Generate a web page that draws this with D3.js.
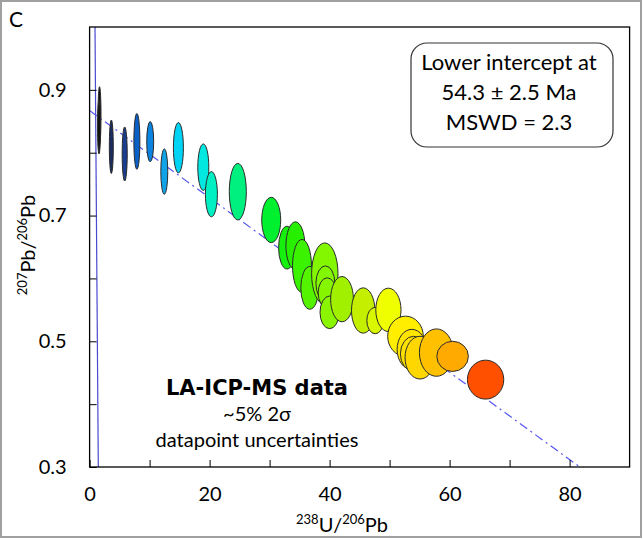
<!DOCTYPE html>
<html>
<head>
<meta charset="utf-8">
<script src="https://cdn.jsdelivr.net/npm/d3@7"></script>
<style>
  body { margin: 0; background: #fff; }
  text { font-family: Lato, "Open Sans", sans-serif; fill: #000; }
</style>
</head>
<body>
<div id="chart"></div>
<script>
// data: 238U/206Pb, 207Pb/206Pb and 1-sided error (same units)
var xVals = [1.65, 1.57, 3.62, 5.85, 7.88, 10.1, 12.45, 14.8, 18.95, 20.3, 24.7,
             30.27, 32.9, 34.3, 35.4, 36.7, 39.2, 39.3, 39.6, 40.0, 42.07, 45.6,
             47.6, 49.8, 52.65, 53.7, 54.0, 55.07, 57.8, 60.5, 66.0];
var yVals = [0.859, 0.840, 0.8095, 0.798, 0.818, 0.8175, 0.770, 0.808, 0.777, 0.734, 0.738,
             0.693, 0.649, 0.652, 0.620, 0.585, 0.6075, 0.592, 0.577, 0.546, 0.567, 0.549,
             0.533, 0.550, 0.508, 0.487, 0.480, 0.474, 0.482, 0.476, 0.439];
var xErr  = [0.25, 0.25, 0.33, 0.42, 0.5, 0.58, 0.58, 0.83, 0.92, 1.0, 1.42,
             1.58, 1.4, 1.58, 1.58, 1.5, 2.2, 1.58, 1.5, 1.6, 1.9, 1.95,
             1.4, 2.1, 2.97, 2.45, 2.2, 2.5, 2.83, 2.63, 3.03];
var yErr  = [0.046, 0.042, 0.0425, 0.043, 0.0445, 0.032, 0.036, 0.040, 0.037, 0.036, 0.045,
             0.036, 0.034, 0.038, 0.042, 0.034, 0.049, 0.028, 0.024, 0.026, 0.036, 0.036,
             0.021, 0.0345, 0.032, 0.032, 0.028, 0.034, 0.0377, 0.024, 0.031];

// discordia (regression) and concordia segments
var discordia = [[0, 0.867], [81.7, 0.3]];
var concordia = [[0.9, 1.0], [1.45, 0.3]];

var xTicks = [0, 10, 20, 30, 40, 50, 60, 70, 80];
var yTicks = [0.3, 0.4, 0.5, 0.6, 0.7, 0.8, 0.9];
var xLabels = [0, 20, 40, 60, 80];
var yLabels = [0.3, 0.5, 0.7, 0.9];

var boxLines = ["Lower intercept at", "54.3 \u00b1 2.5 Ma", "MSWD = 2.3"];
var noteLines = ["LA-ICP-MS data", "~5% 2\u03c3", "datapoint uncertainties"];

var W = 643, H = 540;
var margin = {left: 89.6, right: 13.4, top: 27, bottom: 73};
var width = W - margin.left - margin.right,
    height = H - margin.top - margin.bottom;

var svg = d3.select("#chart").append("svg")
    .attr("width", W)
    .attr("height", H);

// outer grey frame
svg.append("rect")
    .attr("x", 1).attr("y", 1)
    .attr("width", W - 3).attr("height", H - 4)
    .attr("fill", "none")
    .attr("stroke", "#a0a0a0")
    .attr("stroke-width", 2);

svg.append("text")
    .attr("x", 9).attr("y", 27)
    .attr("font-size", "21px")
    .text("C");

var canvas = svg.append("g")
    .attr("transform", "translate(" + margin.left + "," + margin.top + ")");

var x = d3.scaleLinear().domain([0, 90]).range([0, width]);
var y = d3.scaleLinear().domain([0.3, 1.0]).range([height, 0]);

var color = d3.scaleLinear()
    .domain([1.6, 3.6, 5.9, 7.9, 10.1, 12.5, 14.8, 19, 20.3, 24.7, 30.3, 34, 39, 42, 45.6, 49.8, 52.7, 55, 57.8, 60.5, 66])
    .range(["#111111", "#1a2c60", "#1a3d90", "#0a60c8", "#0a84e0", "#10a4e8", "#00d4f4", "#00e8e0",
            "#00f0c4", "#00f080", "#00f030", "#20f000", "#80f800", "#a0f000", "#c4f000", "#f0ff00",
            "#ffee00", "#ffd800", "#ffc000", "#ffaa00", "#ff5000"]);

var clipId = "plotclip";
canvas.append("clipPath").attr("id", clipId)
  .append("rect").attr("width", width).attr("height", height);

var plot = canvas.append("g").attr("clip-path", "url(#" + clipId + ")");

var line = d3.line()
    .x(function(d){ return x(d[0]); })
    .y(function(d){ return y(d[1]); });

plot.append("path")
    .datum(concordia)
    .attr("d", line)
    .attr("fill", "none")
    .attr("stroke", "#4a4ad0")
    .attr("stroke-width", 1.2);

plot.append("path")
    .datum(discordia)
    .attr("d", line)
    .attr("fill", "none")
    .attr("stroke", "#5555f0")
    .attr("stroke-width", 1.2)
    .attr("stroke-dasharray", "9,4,2,4");

var points = xVals.map(function(v, i){
    return {x: v, y: yVals[i], sx: xErr[i], sy: yErr[i]};
});

plot.selectAll("ellipse")
    .data(points)
    .enter()
    .append("ellipse")
    .attr("cx", function(d){ return x(d.x); })
    .attr("cy", function(d){ return y(d.y); })
    .attr("rx", function(d){ return x(d.sx) - x(0); })
    .attr("ry", function(d){ return y(0.3) - y(0.3 + d.sy); })
    .attr("fill", function(d){ return color(d.x); })
    .attr("stroke", "#2a2a2a")
    .attr("stroke-width", 1);

// axes: inward ticks, labels on every other tick
var xAxisCall = d3.axisBottom(x)
    .tickValues(xTicks)
    .tickSizeInner(-7)
    .tickSizeOuter(0)
    .tickPadding(20)
    .tickFormat(function(d){ return xLabels.indexOf(d) >= 0 ? d : ""; });
var xAxis = canvas.append("g")
    .attr("transform", "translate(0," + height + ")")
    .call(xAxisCall);

var yAxisCall = d3.axisLeft(y)
    .tickValues(yTicks)
    .tickSizeInner(-7)
    .tickSizeOuter(0)
    .tickPadding(23)
    .tickFormat(function(d){ return yLabels.indexOf(d) >= 0 ? d3.format(".1f")(d) : ""; });
var yAxis = canvas.append("g").call(yAxisCall);

[xAxis, yAxis].forEach(function(a){
    a.select(".domain").remove();
    a.selectAll("line").attr("stroke", "#000");
    a.selectAll("text")
        .attr("font-family", "Lato, 'Open Sans', sans-serif")
        .attr("font-size", "20px")
        .attr("fill", "#000");
});

// plot frame
canvas.append("rect")
    .attr("width", width)
    .attr("height", height)
    .attr("fill", "none")
    .attr("stroke", "#000")
    .attr("stroke-width", 1.3);

// x label
var xl = svg.append("text")
    .attr("x", 342).attr("y", 532)
    .attr("text-anchor", "middle")
    .attr("font-size", "20px");
xl.append("tspan").attr("font-size", "13px").attr("dy", -8).text("238");
xl.append("tspan").attr("dy", 8).text("U/");
xl.append("tspan").attr("font-size", "13px").attr("dy", -8).text("206");
xl.append("tspan").attr("dy", 8).text("Pb");

// y label
var yl = svg.append("text")
    .attr("transform", "translate(35,245) rotate(-90)")
    .attr("text-anchor", "middle")
    .attr("font-size", "20px");
yl.append("tspan").attr("font-size", "13px").attr("dy", -8).text("207");
yl.append("tspan").attr("dy", 8).text("Pb/");
yl.append("tspan").attr("font-size", "13px").attr("dy", -8).text("206");
yl.append("tspan").attr("dy", 8).text("Pb");

// intercept box
svg.append("rect")
    .attr("x", 411).attr("y", 43)
    .attr("width", 202).attr("height", 104)
    .attr("rx", 16).attr("ry", 16)
    .attr("fill", "#fff")
    .attr("stroke", "#333")
    .attr("stroke-width", 1.2);

svg.selectAll(".boxline")
    .data(boxLines)
    .enter()
    .append("text")
    .attr("class", "boxline")
    .attr("x", 509)
    .attr("y", function(d, i){ return 70 + i * 30; })
    .attr("text-anchor", "middle")
    .attr("font-size", "22px")
    .text(function(d){ return d; });

// note
svg.selectAll(".note")
    .data(noteLines)
    .enter()
    .append("text")
    .attr("class", "note")
    .attr("x", 257)
    .attr("y", function(d, i){ return 395 + i * 26; })
    .attr("text-anchor", "middle")
    .style("font-family", function(d, i){ return i === 0 ? "'DejaVu Sans', sans-serif" : null; })
    .attr("font-size", function(d, i){ return i === 0 ? "21px" : "20px"; })
    .attr("font-weight", function(d, i){ return i === 0 ? "bold" : "normal"; })
    .text(function(d){ return d; });
</script>
</body>
</html>
